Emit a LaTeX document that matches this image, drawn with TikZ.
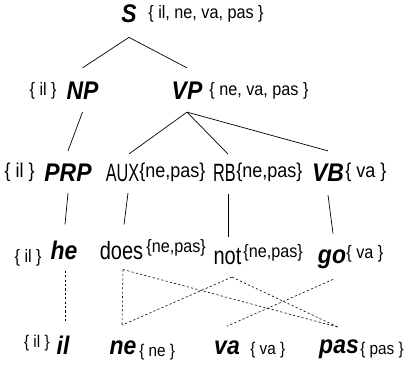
\documentclass[tikz,border=0pt]{standalone}
\usepackage{fontspec}
\setmainfont{Liberation Sans}
\newfontfamily\catfont{Liberation Sans}[FakeStretch=0.9]
\newfontfamily\tagfont{Liberation Sans}[FakeStretch=0.65]
\newfontfamily\wordfont{Liberation Sans}[FakeStretch=0.8]
\newfontfamily\setfont{Liberation Sans}[FakeStretch=0.9]
\usepackage{tikz}

\begin{document}
\begin{tikzpicture}[x=1pt,y=-1pt,line width=0.7pt,
    cat/.style={inner sep=0pt,font=\catfont\bfseries\itshape\fontsize{25.5}{25.5}\selectfont},
    tag/.style={inner sep=0pt,font=\tagfont\fontsize{25}{25}\selectfont},
    word/.style={inner sep=0pt,font=\wordfont\fontsize{25}{25}\selectfont},
    wset/.style={inner sep=0pt,font=\setfont\fontsize{#1}{#1}\selectfont},
    wset/.default=18,
    link/.style={dash pattern=on 2.2pt off 2.2pt,line width=0.6pt}]
        \useasboundingbox (0,0) rectangle (409,371);
        \path
        % root
        (129,13.5) node[cat](S) {S}
        (148,13.5) node[wset,anchor=west](Sset) {\{ il, ne, va, pas \}}

        % phrases
        (57,90.5) node[wset,anchor=east](NPset) {\{ il \}}
        (82.5,91) node[cat](NP) {NP}
        (187,91) node[cat](VP) {VP}
        (209,91) node[wset,anchor=west](VPset) {\{ ne, va, pas \}}

        % tags
        (35,172.5) node[wset=20,anchor=east](PRPset) {\{ il \}}
        (68,173) node[cat](PRP) {PRP}
        (122.5,173) node[tag](AUX) {AUX}
        (139,172.5) node[wset=20,anchor=west](AUXset) {\{ne,pas\}}
        (224.5,173) node[tag](RB) {RB}
        (236,172.5) node[wset=20,anchor=west](RBset) {\{ne,pas\}}
        (328,173) node[cat](VB) {VB}
        (345,172.5) node[wset=20,anchor=west](VBset) {\{ va \}}

        % english
        (42,258) node[wset,anchor=east](heset) {\{ il \}}
        (64,250) node[cat](he) {he}
        (121.5,251) node[word](does) {does}
        (146,248) node[wset,anchor=west](doesset) {\{ne,pas\}}
        (227.5,257) node[word](not) {not}
        (243,253) node[wset,anchor=west](notset) {\{ne,pas\}}
        (332,259) node[cat](go) {go}
        (346,254) node[wset,anchor=west](goset) {\{ va \}}

        % french
        (50,343.5) node[wset=17,anchor=east](ilset) {\{ il \}}
        (63,345) node[cat](il) {il}
        (123,348) node[cat](ne) {ne}
        (139,352.5) node[wset=17,anchor=west](neset) {\{ ne \}}
        (227,347.5) node[cat](va) {va}
        (250,350.5) node[wset=17,anchor=west](vaset) {\{ va \}}
        (339,349) node[cat](pas) {pas}
        (360,350.5) node[wset=17,anchor=west](passet) {\{ pas \}}
        ;

        \draw ([yshift=-14.5]S.south) -- ([yshift=14]NP.north);
        \draw ([yshift=-14.5]S.south) -- ([yshift=14]VP.north);
        \draw ([yshift=-12]NP.south) -- ([yshift=13]PRP.north);
        \draw ([yshift=-12]VP.south) -- ([xshift=6.5,yshift=10]AUX.north);
        \draw ([yshift=-12]VP.south) -- ([xshift=3.5,yshift=10]RB.north);
        \draw ([yshift=-12]VP.south) -- ([yshift=13]VB.north);

        \draw ([yshift=-11]PRP.south) -- ([xshift=1,yshift=16]he.north);
        \draw ([xshift=5.5,yshift=-11]AUX.south) -- ([xshift=2.5,yshift=17]does.north);
        \draw ([xshift=3.5,yshift=-12]RB.south) -- ([xshift=0.5,yshift=11.5]not.north);
        \draw ([yshift=-13]VB.south) -- ([xshift=1,yshift=15.6]go.north);

        \draw[link] ([xshift=1,yshift=-11]he.south) -- ([xshift=2,yshift=13]il.north);
        \draw[link] ([xshift=1.5,yshift=-9]does.south) -- ([xshift=-1,yshift=15.5]ne.north);
        \draw[link] ([xshift=1.5,yshift=-9]does.south) -- ([xshift=-1,yshift=12]pas.north);
        \draw[link] ([xshift=4.5,yshift=-11.5]not.south) -- ([xshift=-1,yshift=15.5]ne.north);
        \draw[link] ([xshift=4.5,yshift=-11.5]not.south) -- ([xshift=-1,yshift=12]pas.north);
        \draw[link] ([xshift=1,yshift=-10.6]go.south) -- ([yshift=14]va.north);
      \end{tikzpicture}
\end{document}
